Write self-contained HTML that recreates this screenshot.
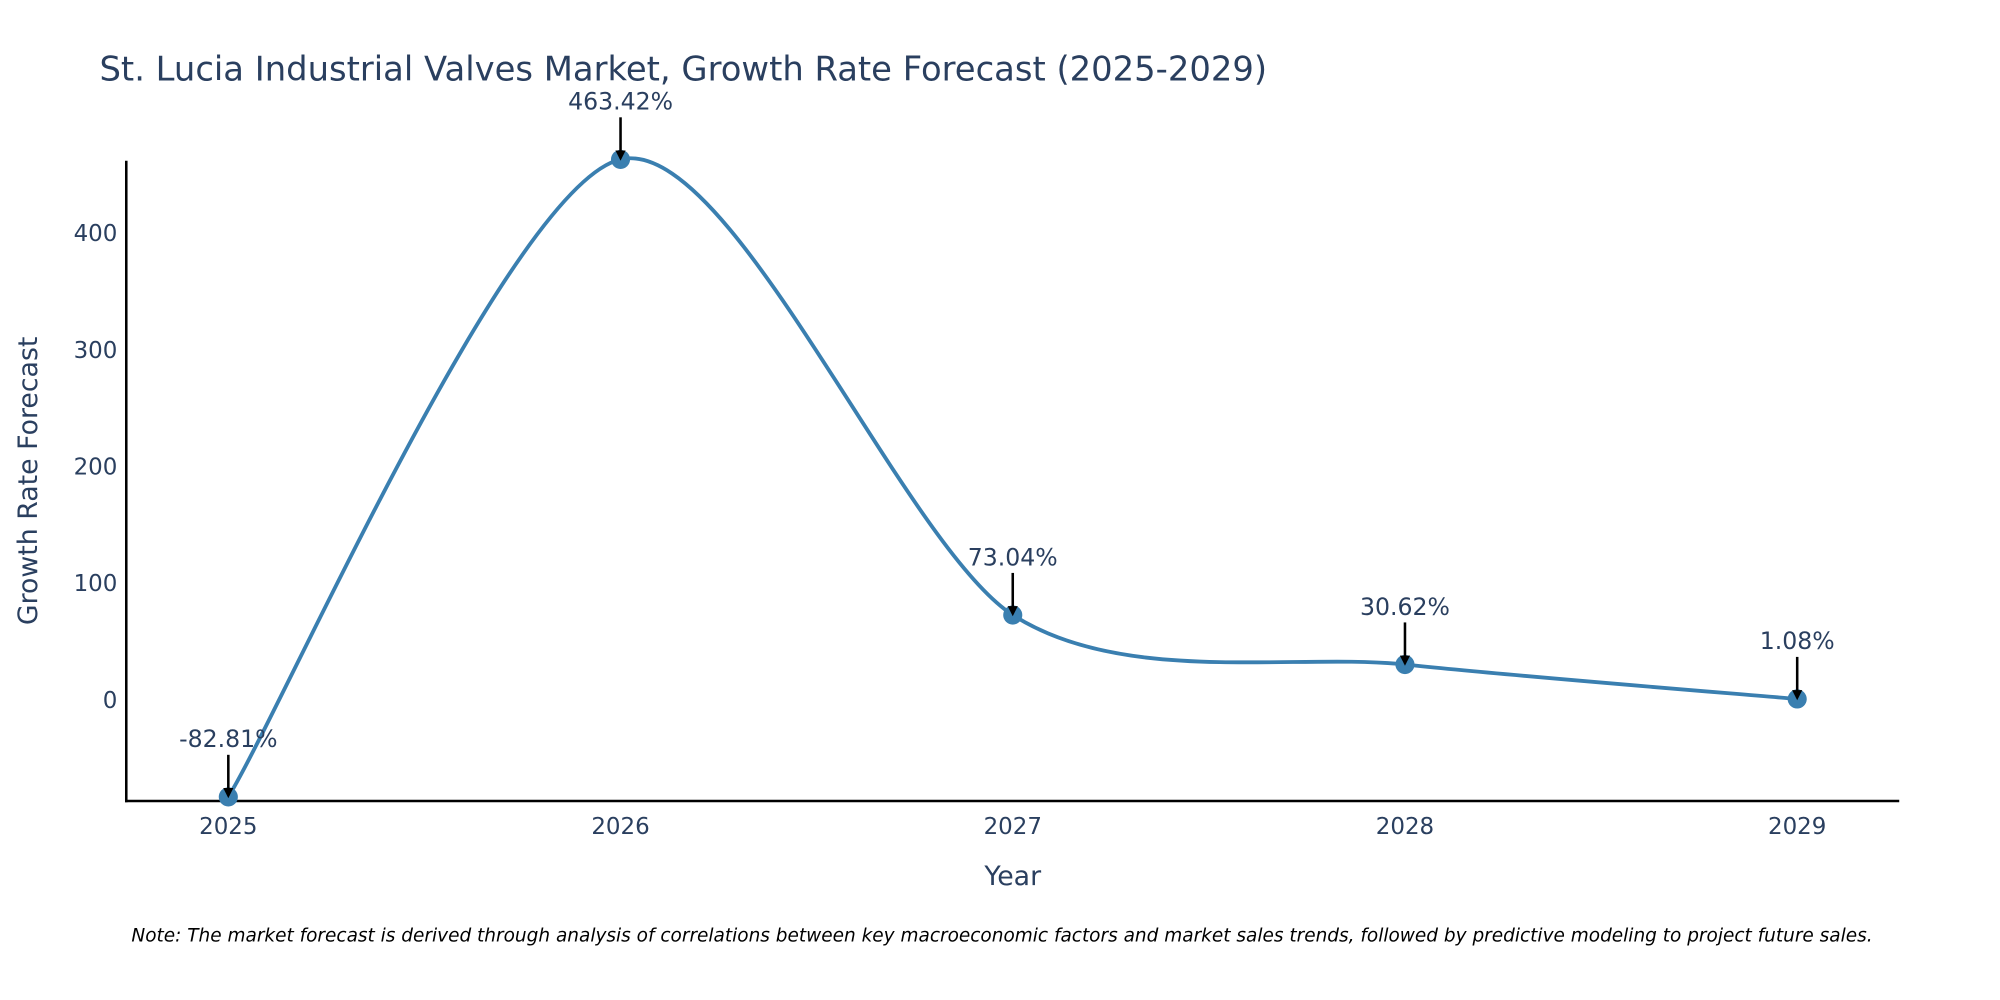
<!DOCTYPE html>
<html><head><meta charset="utf-8"><style>
html,body{margin:0;padding:0;background:#fff;overflow:hidden}
#wrap{width:1568px;height:784px;transform:scale(1.27551);transform-origin:0 0;position:relative}
svg text{font-family:"DejaVu Sans","Liberation Sans",sans-serif;fill:#2a3f5f}
</style></head><body>
<div id="wrap">
<svg id="chart" width="1568" height="784">
<text x="78" y="63" font-size="26.5">St. Lucia Industrial Valves Market, Growth Rate Forecast (2025-2029)</text>
<g id="yticks"></g><g id="xticks"></g>
<line x1="99" y1="126" x2="99" y2="629" stroke="#000" stroke-width="2"/>
<line x1="98" y1="628" x2="1489" y2="628" stroke="#000" stroke-width="2"/>
<text transform="translate(29,377) rotate(-90)" text-anchor="middle" font-size="21">Growth Rate Forecast</text>
<text x="794" y="694" text-anchor="middle" font-size="21">Year</text>
<g id="series"></g><g id="annots"></g>
<text x="103" y="738" font-size="14.5" font-style="italic" style="fill:#000">Note: The market forecast is derived through analysis of correlations between key macroeconomic factors and market sales trends, followed by predictive modeling to project future sales.</text>
<defs><marker id="ah" markerWidth="8" markerHeight="8" refX="6" refY="4" orient="auto" markerUnits="userSpaceOnUse" viewBox="0 0 8 8"><path d="M0,0 L8,4 L0,8 z" fill="#000"/></marker></defs>
</svg></div>
<script>
const years=[2025,2026,2027,2028,2029];
const values=[-82.81,463.42,73.04,30.62,1.08];
const labels=["-82.81%","463.42%","73.04%","30.62%","1.08%"];
const yTickVals=[0,100,200,300,400];
const NS="http://www.w3.org/2000/svg";
const xs=y=>179+(y-2025)*307.5;
const ys=v=>549-v*0.915;
function mk(t,a,p){const e=document.createElementNS(NS,t);for(const k in a)e.setAttribute(k,a[k]);p.appendChild(e);return e;}
const yt=document.getElementById('yticks');
yTickVals.forEach(v=>{const t=mk('text',{x:92,y:ys(v)+6,'text-anchor':'end','font-size':18},yt);


t.textContent=v;});
const xt=document.getElementById('xticks');
years.forEach(y=>{const t=mk('text',{x:xs(y),y:654,'text-anchor':'middle','font-size':18},xt);


t.textContent=y;});
const pts=years.map((y,i)=>[xs(y),ys(values[i])]);
let d='M'+pts[0][0]+','+pts[0][1];
const k=0.14;
for(let i=0;i<pts.length-1;i++){const p0=pts[Math.max(i-1,0)],p1=pts[i],p2=pts[i+1],p3=pts[Math.min(i+2,pts.length-1)];
d+=` C${p1[0]+(p2[0]-p0[0])*k},${p1[1]+(p2[1]-p0[1])*k} ${p2[0]-(p3[0]-p1[0])*k},${p2[1]-(p3[1]-p1[1])*k} ${p2[0]},${p2[1]}`;}
const s=document.getElementById('series');
const ln=mk('path',{d:d,fill:'none',stroke:'#3a7fb0','stroke-width':3},s);


pts.forEach(p=>{const c=mk('circle',{cx:p[0],cy:p[1],r:7.5,fill:'#3a7fb0'},s);

});
const an=document.getElementById('annots');
pts.forEach((p,i)=>{const l=mk('line',{x1:p[0],y1:p[1]-33,x2:p[0],y2:p[1]-1,stroke:'#000','stroke-width':2,'marker-end':'url(#ah)'},an);


const t=mk('text',{x:p[0],y:p[1]-39,'text-anchor':'middle','font-size':18.5},an);


t.textContent=labels[i];});
</script>
</body></html>
